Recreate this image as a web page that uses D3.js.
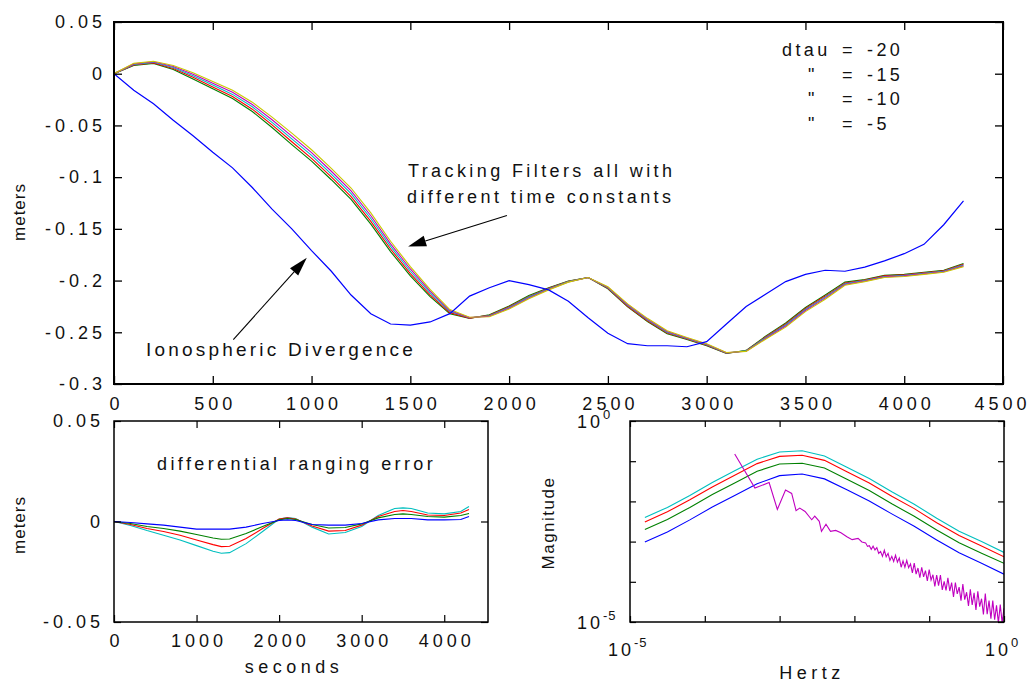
<!DOCTYPE html>
<html><head><meta charset="utf-8">
<script src="https://cdn.jsdelivr.net/npm/d3@7"></script>
<style>
body{margin:0;background:#fff;}
</style></head><body><svg id="c" width="1031" height="684"></svg>
<script>
// ---------------- DATA ----------------
// Top panel: time (s)
const timeTop = [0,100,200,300,400,500,600,700,800,900,1000,1100,1200,1300,1400,1500,1600,1700,1800,1900,2000,2100,2200,2300,2400,2500,2600,2700,2800,2900,3000,3100,3200,3300,3400,3500,3600,3700,3800,3900,4000,4100,4200,4300];
const ionoDivergence = [0,-0.016,-0.029,-0.045,-0.060,-0.076,-0.091,-0.110,-0.131,-0.150,-0.171,-0.191,-0.214,-0.232,-0.242,-0.243,-0.240,-0.232,-0.215,-0.207,-0.200,-0.204,-0.209,-0.220,-0.236,-0.251,-0.261,-0.263,-0.263,-0.264,-0.259,-0.242,-0.225,-0.213,-0.201,-0.194,-0.190,-0.191,-0.187,-0.181,-0.174,-0.165,-0.146,-0.123];
const filterGreen = [0,0.008,0.010,0.004,-0.005,-0.0145,-0.024,-0.0365,-0.052,-0.0685,-0.0845,-0.1025,-0.1215,-0.1455,-0.172,-0.1955,-0.2155,-0.232,-0.2365,-0.233,-0.2245,-0.2145,-0.207,-0.2005,-0.197,-0.208,-0.2255,-0.2395,-0.2515,-0.257,-0.263,-0.2705,-0.2675,-0.2535,-0.241,-0.226,-0.214,-0.2015,-0.199,-0.195,-0.194,-0.192,-0.190,-0.1835];
const filterRed = [0,0.0085,0.0105,0.005,-0.0035,-0.0128,-0.022,-0.0343,-0.0495,-0.0658,-0.0818,-0.0998,-0.1188,-0.1428,-0.1695,-0.1933,-0.2138,-0.231,-0.2363,-0.2335,-0.2253,-0.2153,-0.2075,-0.2008,-0.197,-0.2075,-0.2248,-0.2388,-0.2508,-0.2565,-0.2625,-0.2703,-0.2678,-0.2543,-0.242,-0.227,-0.215,-0.2023,-0.1995,-0.1955,-0.1945,-0.1925,-0.1905,-0.1843];
const filterCyan = [0,0.009,0.011,0.006,-0.002,-0.011,-0.020,-0.032,-0.047,-0.063,-0.079,-0.097,-0.116,-0.140,-0.167,-0.191,-0.212,-0.230,-0.236,-0.234,-0.226,-0.216,-0.208,-0.201,-0.197,-0.207,-0.224,-0.238,-0.250,-0.256,-0.262,-0.270,-0.268,-0.255,-0.243,-0.228,-0.216,-0.203,-0.200,-0.196,-0.195,-0.193,-0.191,-0.185];
const filterMagenta = [0,0.0095,0.0115,0.007,-0.0005,-0.0093,-0.018,-0.0298,-0.0445,-0.0603,-0.0763,-0.0943,-0.1133,-0.1373,-0.1645,-0.1888,-0.2103,-0.229,-0.2358,-0.2345,-0.2268,-0.2168,-0.2085,-0.2013,-0.197,-0.2065,-0.2233,-0.2373,-0.2493,-0.2555,-0.2615,-0.2698,-0.2683,-0.2558,-0.244,-0.229,-0.217,-0.2038,-0.2005,-0.1965,-0.1955,-0.1935,-0.1915,-0.1858];
const filterYellow = [0,0.010,0.012,0.008,0.001,-0.0075,-0.016,-0.0275,-0.042,-0.0575,-0.0735,-0.0915,-0.1105,-0.1345,-0.162,-0.1865,-0.2085,-0.228,-0.2355,-0.235,-0.2275,-0.2175,-0.209,-0.2015,-0.197,-0.206,-0.2225,-0.2365,-0.2485,-0.255,-0.261,-0.2695,-0.2685,-0.2565,-0.245,-0.230,-0.218,-0.2045,-0.201,-0.197,-0.196,-0.194,-0.192,-0.1865];
const topXTicks = [0,500,1000,1500,2000,2500,3000,3500,4000,4500];
const topYTicks = [0.05,0,-0.05,-0.1,-0.15,-0.2,-0.25,-0.3];
const topYLabels = ["0.05","0","-0.05","-0.1","-0.15","-0.2","-0.25","-0.3"];
const legendLabels = ["dtau","\"","\"","\""];
const legendValues = ["-20","-15","-10","-5"];

// Bottom-left panel: differential ranging error
const diffTime = [0,200,400,600,800,1000,1200,1300,1400,1600,1800,2000,2100,2200,2400,2600,2800,3000,3200,3400,3500,3600,3800,4000,4200,4300];
const diffBlue = [0,-0.0005,-0.0012,-0.0018,-0.0028,-0.0038,-0.0038,-0.0038,-0.0038,-0.0028,-0.001,0.0005,0.0008,0.0005,-0.0015,-0.0018,-0.0018,-0.001,0.0008,0.0015,0.0015,0.0015,0.0008,0.0008,0.001,0.0025];
const diffGreen = [0,-0.001,-0.0025,-0.0035,-0.0048,-0.0065,-0.0082,-0.0088,-0.0087,-0.006,-0.0025,0.0008,0.0015,0.001,-0.0015,-0.0032,-0.0030,-0.0012,0.0018,0.0035,0.0038,0.0035,0.0025,0.0022,0.003,0.004];
const diffRed = [0,-0.0015,-0.0035,-0.0050,-0.0068,-0.0092,-0.0115,-0.0125,-0.0123,-0.0085,-0.0035,0.0012,0.0018,0.0012,-0.0022,-0.0048,-0.0045,-0.0018,0.0025,0.005,0.0055,0.005,0.0032,0.003,0.0042,0.006];
const diffCyan = [0,-0.002,-0.0045,-0.0068,-0.0092,-0.012,-0.0148,-0.0158,-0.0155,-0.011,-0.005,0.0012,0.002,0.0015,-0.0028,-0.0062,-0.0055,-0.0025,0.003,0.0065,0.0068,0.0065,0.0042,0.0038,0.005,0.0075];
const diffXTicks = [0,1000,2000,3000,4000];
const diffYTicks = [0.05,0,-0.05];
const diffYLabels = ["0.05","0","-0.05"];

// Bottom-right panel: spectra (Hz, magnitude)
const specFreq = [1.58e-5,3.16e-5,6.31e-5,1.26e-4,2.51e-4,5.01e-4,1.0e-3,2.0e-3,3.98e-3,7.94e-3,1.58e-2,3.16e-2,6.31e-2,0.126,0.251,0.501,1.0];
const specCyan = [3.98e-3,7.08e-3,1.41e-2,2.95e-2,5.75e-2,0.112,0.170,0.182,0.135,0.0708,0.0372,0.0174,0.00851,0.00380,0.00182,0.00100,0.000537];
const specRed = [3.09e-3,5.50e-3,1.10e-2,2.29e-2,4.47e-2,0.0871,0.132,0.141,0.105,0.0550,0.0288,0.0135,0.00661,0.00295,0.00141,0.000776,0.000417];
const specGreen = [2.00e-3,3.55e-3,7.08e-3,1.48e-2,2.88e-2,5.62e-2,0.0851,0.0891,0.0676,0.0355,0.0186,0.00871,0.00427,0.00195,0.000933,0.000513,0.000288];
const specBlue = [9.77e-4,1.74e-3,3.47e-3,7.24e-3,1.41e-2,2.75e-2,0.0437,0.0479,0.0363,0.0195,0.0102,0.0049,0.0024,0.0011,0.000525,0.000288,0.000155];
const magentaFreq = [2.51e-4,4.68e-4,7.24e-4,9.33e-4,1.20e-3,1.45e-3,1.66e-3,1.86e-3,2.19e-3,2.69e-3,2.95e-3,3.39e-3,3.63e-3,4.17e-3,4.79e-3,5.62e-3,6.61e-3,7.94e-3,9.33e-3,1.12e-2,1.26e-2,
 1.413e-2,1.496e-2,1.585e-2,1.679e-2,1.778e-2,1.884e-2,1.995e-2,2.113e-2,2.239e-2,2.371e-2,
 2.512e-2,2.661e-2,2.818e-2,2.985e-2,3.162e-2,3.350e-2,3.548e-2,3.758e-2,3.981e-2,4.217e-2,
 4.467e-2,4.732e-2,5.012e-2,5.309e-2,5.623e-2,5.957e-2,6.310e-2,6.683e-2,7.079e-2,7.499e-2,
 7.943e-2,8.414e-2,8.913e-2,9.441e-2,0.1,0.1059,0.1122,0.1189,0.1259,0.1334,
 0.1413,0.1496,0.1585,0.1679,0.1778,0.1884,0.1995,0.2113,0.2239,0.2371,
 0.2512,0.2661,0.2818,0.2985,0.3162,0.3350,0.3548,0.3758,0.3981,0.4217,
 0.4467,0.4732,0.5012,0.5309,0.5623,0.5957,0.6310,0.6683,0.7079,0.7499,
 0.7943,0.8414,0.8913,0.9441,1.0];
const magentaMag = [0.151,0.0214,0.0295,0.0063,0.0191,0.0158,0.0059,0.0068,0.0056,0.0035,0.0043,0.0032,0.0018,0.0027,0.0018,0.0019,0.00166,0.00132,0.00112,0.0012,0.00098,
 9.3e-4,7.6e-4,7.9e-4,6.4e-4,7.7e-4,6.2e-4,7.1e-4,5.1e-4,5.7e-4,4.3e-4,
 6.1e-4,4.2e-4,5.1e-4,3.4e-4,4.3e-4,3.2e-4,4.6e-4,3.1e-4,3.9e-4,2.3e-4,
 3.3e-4,2.3e-4,3.4e-4,2.25e-4,2.8e-4,1.66e-4,2.9e-4,1.56e-4,2.2e-4,1.26e-4,
 2.3e-4,1.33e-4,1.9e-4,1.05e-4,2.0e-4,1.1e-4,1.5e-4,7.7e-5,1.47e-4,8.0e-5,
 1.47e-4,6.3e-5,1.02e-4,6.1e-5,1.26e-4,5.9e-5,9.6e-5,4.2e-5,9.6e-5,5.0e-5,
 7.4e-5,3.4e-5,8.8e-5,3.6e-5,5.5e-5,2.5e-5,6.5e-5,2.65e-5,5.3e-5,2.0e-5,
 5.8e-5,2.4e-5,3.8e-5,1.54e-5,5.1e-5,1.57e-5,3.4e-5,1.21e-5,3.4e-5,1.14e-5,
 2.6e-5,9.5e-6,2.7e-5,9.6e-6,2.2e-5];
const logTicks = [1e-5,1e-4,1e-3,1e-2,1e-1,1];

// ---------------- DRAWING ----------------
const FONT = '"Liberation Sans", Arial, Helvetica, sans-serif';
const TXT = "#111";
const COL = {blue:"#0000ff", green:"#008000", red:"#ff0000", cyan:"#00bfbf", magenta:"#c000c0", yellow:"#c8c800"};
const svg = d3.select("#c");
svg.append("rect").attr("width",1031).attr("height",684).attr("fill","#fff");
const defs = svg.append("defs");

function clip(id, x0, x1, yb, yt){
  defs.append("clipPath").attr("id",id).append("rect")
    .attr("x",x0).attr("y",yt).attr("width",x1-x0).attr("height",yb-yt);
  return `url(#${id})`;
}
function styleAxis(g, fs, ls, tw){
  g.attr("font-size", fs).attr("font-family", FONT);
  g.select(".domain").remove();
  g.selectAll(".tick line").attr("stroke","#000").attr("stroke-width",tw);
  g.selectAll(".tick text").attr("fill",TXT).style("letter-spacing", ls+"px");
}
function frame(x0,x1,yb,yt,w){
  svg.append("rect").attr("x",x0).attr("y",yt).attr("width",x1-x0).attr("height",yb-yt)
    .attr("fill","none").attr("stroke","#000").attr("stroke-width",w);
}
function label(x,y,str,opts={}){
  const t = svg.append("text").attr("x",x).attr("y",y).text(str)
    .attr("font-family",FONT).attr("font-size",opts.fs||18).attr("fill",TXT)
    .style("letter-spacing",(opts.ls!=null?opts.ls:3.4)+"px")
    .attr("text-anchor",opts.anchor||"start");
  if(opts.rotate) t.attr("transform",`rotate(-90,${x},${y})`);
  return t;
}
function arrow(x1,y1,x2,y2,len,hw){
  const dx=x2-x1, dy=y2-y1, L=Math.hypot(dx,dy), ux=dx/L, uy=dy/L;
  const bx=x2-ux*len, by=y2-uy*len;
  svg.append("line").attr("x1",x1).attr("y1",y1).attr("x2",bx).attr("y2",by)
    .attr("stroke","#000").attr("stroke-width",1.1);
  svg.append("path").attr("d",`M${x2},${y2}L${bx-uy*hw},${by+ux*hw}L${bx+uy*hw},${by-ux*hw}Z`).attr("fill","#000");
}

// ===== Top panel =====
const xT = d3.scaleLinear().domain([0,4500]).range([114,1003]);
const yT = d3.scaleLinear().domain([-0.3,0.05]).range([384,22]);
const cTop = clip("cTop",114,1003,384,22);
const lineT = d3.line().x((d,i)=>xT(timeTop[i])).y(d=>yT(d));
const gT = svg.append("g").attr("clip-path",cTop);
[[filterGreen,COL.green],[filterRed,COL.red],[filterCyan,COL.cyan],[filterMagenta,COL.magenta],[filterYellow,COL.yellow]]
  .forEach(([s,c])=>gT.append("path").attr("d",lineT(s)).attr("fill","none").attr("stroke",c).attr("stroke-width",1.1));
gT.append("path").attr("d",lineT(ionoDivergence)).attr("fill","none").attr("stroke",COL.blue).attr("stroke-width",1.2);

svg.append("g").attr("transform","translate(0,384)")
  .call(d3.axisBottom(xT).tickValues(topXTicks).tickSize(-8).tickSizeOuter(0).tickPadding(13).tickFormat(d=>String(d)))
  .call(g=>styleAxis(g,18,4,1.3))
  .call(g=>g.selectAll(".tick text").attr("dx",(d,i)=>i===topXTicks.length-1?-1:2));
svg.append("g").attr("transform","translate(0,22)")
  .call(d3.axisTop(xT).tickValues(topXTicks).tickSize(-8).tickSizeOuter(0).tickFormat(""))
  .call(g=>styleAxis(g,18,4,1.3));
svg.append("g").attr("transform","translate(114,0)")
  .call(d3.axisLeft(yT).tickValues(topYTicks).tickSize(-8).tickSizeOuter(0).tickPadding(8).tickFormat((d,i)=>topYLabels[i]))
  .call(g=>styleAxis(g,18,4,1.3));
svg.append("g").attr("transform","translate(1003,0)")
  .call(d3.axisRight(yT).tickValues(topYTicks).tickSize(-8).tickSizeOuter(0).tickFormat(""))
  .call(g=>styleAxis(g,18,4,1.3));
frame(114,1003,384,22,2);
label(25,212,"meters",{fs:17,ls:1,anchor:"middle",rotate:true});

// legend text
legendLabels.forEach((l,i)=>{
  const y = 56 + i*24.7;
  label(i===0?782:808, y, l, {ls:3.4});
  label(842, y, "=", {ls:0});
  label(867, y, legendValues[i], {ls:3.4});
});
// annotations
label(408, 177, "Tracking Filters all with");
label(407, 203, "different time constants");
arrow(xT(1989), yT(-0.137), xT(1489), yT(-0.167), 18, 5.5);
label(146, 356, "Ionospheric Divergence", {fs:19, ls:3.2});
arrow(xT(604), yT(-0.257), xT(976), yT(-0.178), 19, 5.5);

// ===== Bottom-left panel =====
const xB = d3.scaleLinear().domain([0,4530]).range([114,488]);
const yB = d3.scaleLinear().domain([-0.05,0.05]).range([622,421]);
const cBL = clip("cBL",114,488,622,421);
const lineB = d3.line().x((d,i)=>xB(diffTime[i])).y(d=>yB(d));
const gB = svg.append("g").attr("clip-path",cBL);
[[diffCyan,COL.cyan],[diffRed,COL.red],[diffGreen,COL.green],[diffBlue,COL.blue]]
  .forEach(([s,c])=>gB.append("path").attr("d",lineB(s)).attr("fill","none").attr("stroke",c).attr("stroke-width",1.1));
svg.append("g").attr("transform","translate(0,622)")
  .call(d3.axisBottom(xB).tickValues(diffXTicks).tickSize(-7).tickSizeOuter(0).tickPadding(12).tickFormat(d=>String(d)))
  .call(g=>styleAxis(g,18,4,1.2)).call(g=>g.selectAll(".tick text").attr("dx",2));
svg.append("g").attr("transform","translate(0,421)")
  .call(d3.axisTop(xB).tickValues(diffXTicks).tickSize(-7).tickSizeOuter(0).tickFormat(""))
  .call(g=>styleAxis(g,18,4,1.2));
svg.append("g").attr("transform","translate(114,0)")
  .call(d3.axisLeft(yB).tickValues(diffYTicks).tickSize(-7).tickSizeOuter(0).tickPadding(10).tickFormat((d,i)=>diffYLabels[i]))
  .call(g=>styleAxis(g,18,4,1.2));
svg.append("g").attr("transform","translate(488,0)")
  .call(d3.axisRight(yB).tickValues(diffYTicks).tickSize(-7).tickSizeOuter(0).tickFormat(""))
  .call(g=>styleAxis(g,18,4,1.2));
frame(114,488,622,421,1.5);
label(157, 470, "differential ranging error", {ls:3.4});
label(25,525,"meters",{fs:17,ls:1,anchor:"middle",rotate:true});
label(294, 673, "seconds", {ls:4.5, anchor:"middle"});

// ===== Bottom-right panel =====
const xL = d3.scaleLog().domain([1e-5,1]).range([630,1004]);
const yL = d3.scaleLog().domain([1e-5,1]).range([622,421]);
const cBR = clip("cBR",630,1004,622,421);
const lineS = d3.line().x((d,i)=>xL(specFreq[i])).y(d=>yL(d));
const gS = svg.append("g").attr("clip-path",cBR);
[[specCyan,COL.cyan],[specRed,COL.red],[specGreen,COL.green],[specBlue,COL.blue]]
  .forEach(([s,c])=>gS.append("path").attr("d",lineS(s)).attr("fill","none").attr("stroke",c).attr("stroke-width",1.1));
const lineM = d3.line().x((d,i)=>xL(magentaFreq[i])).y(d=>yL(d));
gS.append("path").attr("d",lineM(magentaMag)).attr("fill","none").attr("stroke",COL.magenta).attr("stroke-width",1.1);

svg.append("g").attr("transform","translate(0,622)")
  .call(d3.axisBottom(xL).tickValues(logTicks).tickSize(-6).tickSizeOuter(0).tickFormat(""))
  .call(g=>styleAxis(g,18,4,1.2));
svg.append("g").attr("transform","translate(0,421)")
  .call(d3.axisTop(xL).tickValues(logTicks).tickSize(-6).tickSizeOuter(0).tickFormat(""))
  .call(g=>styleAxis(g,18,4,1.2));
svg.append("g").attr("transform","translate(630,0)")
  .call(d3.axisLeft(yL).tickValues(logTicks).tickSize(-6).tickSizeOuter(0).tickFormat(""))
  .call(g=>styleAxis(g,18,4,1.2));
svg.append("g").attr("transform","translate(1004,0)")
  .call(d3.axisRight(yL).tickValues(logTicks).tickSize(-6).tickSizeOuter(0).tickFormat(""))
  .call(g=>styleAxis(g,18,4,1.2));
frame(630,1004,622,421,1.5);

function powLabel(x, y, exp){
  const t = svg.append("text").attr("x",x).attr("y",y)
    .attr("font-family",FONT).attr("font-size",18).attr("fill",TXT).style("letter-spacing","3px");
  t.append("tspan").text("10");
  t.append("tspan").attr("dy",-9).attr("font-size",13).style("letter-spacing","1px").text(exp);
}
// y-axis labels (decade endpoints)
powLabel(577, yL(1e-5)+6.5, "-5");
powLabel(577, yL(1)+6.5, "0");
// x-axis labels
powLabel(xL(1e-5)-22, 656, "-5");
powLabel(xL(1)-19, 656, "0");
label(554, 523, "Magnitude", {fs:17, ls:1.5, anchor:"middle", rotate:true});
label(812, 679, "Hertz", {ls:4.5, anchor:"middle"});
</script></body></html>
